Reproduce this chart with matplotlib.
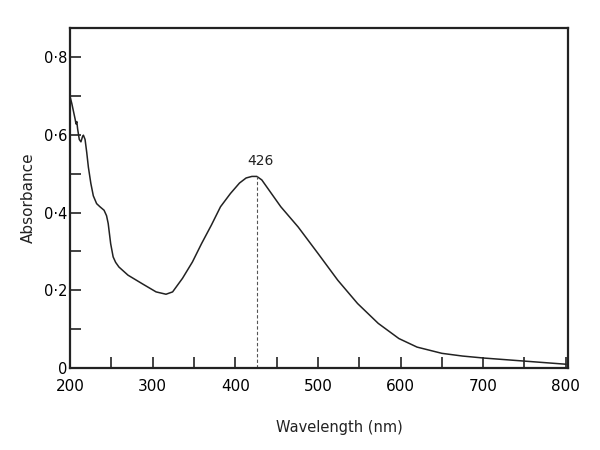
import numpy as np
import matplotlib
matplotlib.use("Agg")
import matplotlib.pyplot as plt
from matplotlib.ticker import MultipleLocator, FixedLocator

# spektrum (nm, abszorbancia)
wavelength = [200, 202, 204, 206, 207, 208, 209, 211, 213, 215, 216, 218, 220,
              222, 225, 228, 232, 236, 241, 244, 246, 249, 252, 255, 259, 270,
              288, 304, 316, 324, 336, 348, 359, 371, 382, 394, 405, 413, 420,
              426, 432, 440, 455, 476, 500, 524, 548, 573, 598, 620, 635, 650,
              675, 700, 725, 750, 775, 800]
absorbance = [0.697, 0.68, 0.66, 0.64, 0.628, 0.634, 0.615, 0.588, 0.582, 0.596,
              0.599, 0.588, 0.555, 0.517, 0.475, 0.443, 0.423, 0.415, 0.406,
              0.392, 0.372, 0.32, 0.286, 0.272, 0.26, 0.239, 0.216, 0.196, 0.19,
              0.196, 0.231, 0.273, 0.32, 0.368, 0.415, 0.449, 0.476, 0.489,
              0.493, 0.493, 0.484, 0.46, 0.415, 0.363, 0.295, 0.226, 0.166,
              0.115, 0.076, 0.054, 0.046, 0.038, 0.031, 0.026, 0.022, 0.018,
              0.014, 0.01]

peak_nm = 426
peak_abs = 0.493

x_labels = [200, 300, 400, 500, 600, 700, 800]
y_labels = [0, 0.2, 0.4, 0.6, 0.8]

fig = plt.figure(figsize=(6, 4.5), dpi=100)
ax = fig.add_axes([0.117, 0.182, 0.83, 0.756])

ax.plot(wavelength, absorbance, color="#222222", lw=1.1,
        solid_joinstyle="round")
ax.plot([peak_nm, peak_nm], [0, peak_abs], color="#555555", lw=0.8,
        linestyle=(0, (3, 2)))
ax.text(peak_nm + 5, peak_abs + 0.022, "426", ha="center", va="bottom",
        fontsize=10, color="#222222")

ax.set_xlim(200, 803)
ax.set_ylim(0, 0.875)

ax.xaxis.set_major_locator(FixedLocator(x_labels))
ax.xaxis.set_minor_locator(MultipleLocator(50))
ax.yaxis.set_major_locator(FixedLocator(y_labels))
ax.yaxis.set_minor_locator(MultipleLocator(0.1))
ax.set_yticklabels(["0" if v == 0 else f"{v:.1f}".replace(".", "\u00b7")
                    for v in y_labels])

ax.tick_params(axis="both", which="both", direction="in", length=8,
               width=1.2, color="#222222")
ax.tick_params(axis="x", which="major", labelsize=11, pad=8)
ax.tick_params(axis="y", which="major", labelsize=10.5, pad=2)
for s in ax.spines.values():
    s.set_linewidth(1.6)
    s.set_color("#222222")

ax.set_ylabel("Absorbance", fontsize=11, labelpad=6, color="#222222")
fig.text(0.565, 0.051, "Wavelength (nm)", ha="center", va="center",
         fontsize=10.5, color="#222222")

fig.savefig("out.png", dpi=100)
